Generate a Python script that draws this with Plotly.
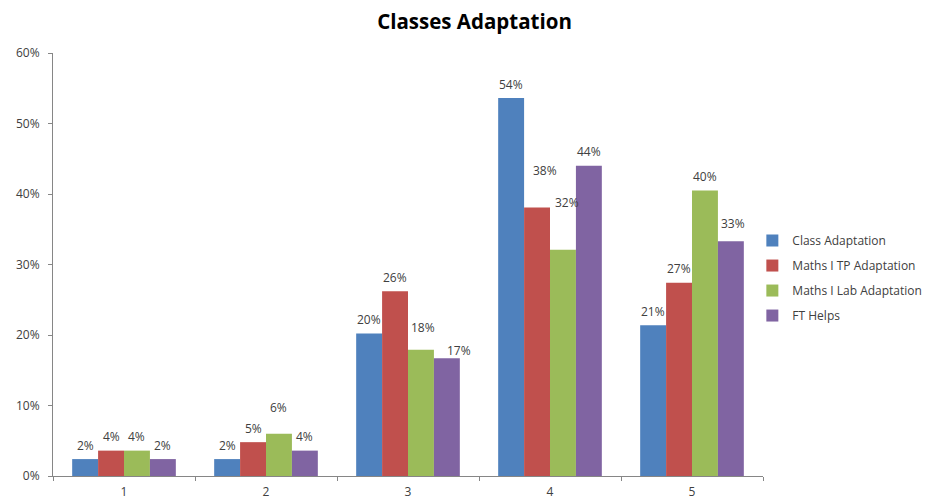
import plotly.graph_objects as go

categories = ["1", "2", "3", "4", "5"]
class_adaptation = [0.024, 0.024, 0.202, 0.536, 0.214]
maths_tp_adaptation = [0.036, 0.048, 0.262, 0.381, 0.274]
maths_lab_adaptation = [0.036, 0.060, 0.179, 0.321, 0.405]
ft_helps = [0.024, 0.036, 0.167, 0.440, 0.333]

series_names = ["Class Adaptation", "Maths I TP Adaptation", "Maths I Lab Adaptation", "FT Helps"]
series_values = [class_adaptation, maths_tp_adaptation, maths_lab_adaptation, ft_helps]
colors = ["#4F81BD", "#C0504D", "#9BBB59", "#8064A2"]

FONT = "Open Sans"
TEXT = "#404040"

# plot area geometry (px)
L, R, T, B = 53, 162, 53, 23
W, H = 925, 499
BARGAP = 0.27
plot_w = W - L - R
bar_w = plot_w / len(categories) * (1 - BARGAP) / len(series_names)

# label nudges (series index, category index) -> (dx, dy) in px
label_nudge = {
    (2, 1): (0, 12),
    (2, 2): (2, 8),
    (3, 2): (12, -6),
    (1, 3): (8, 23),
    (2, 3): (4, 33),
    (3, 4): (2, 4),
}

fig = go.Figure()
annotations = []
for si, (name, vals, col) in enumerate(zip(series_names, series_values, colors)):
    fig.add_trace(go.Bar(
        x=categories, y=vals, name=name, legendgroup=name,
        marker=dict(color=col, line=dict(width=0)),
    ))
    for ci, v in enumerate(vals):
        dx, dy = label_nudge.get((si, ci), (0, 0))
        annotations.append(dict(
            x=ci, y=v, xref="x", yref="y",
            text=f"{round(v * 100):.0f}%", showarrow=False,
            xshift=(si - 1.5) * bar_w + dx, yshift=14 + dy,
            yanchor="middle", xanchor="center",
            font=dict(family=FONT, size=12, color=TEXT),
        ))

fig.update_layout(
    width=W, height=H,
    margin=dict(l=L, r=R, t=T, b=B, autoexpand=False),
    paper_bgcolor="white", plot_bgcolor="white",
    barmode="group", bargap=BARGAP, bargroupgap=0,
    title=dict(text="<b>Classes Adaptation</b>", x=0.513, xanchor="center",
               y=1 - 22 / H, yanchor="middle",
               font=dict(family=FONT, size=20.5, color="#000000")),
    legend=dict(x=0.985, xanchor="left", y=0.468, yanchor="middle",
                font=dict(family=FONT, size=12, color=TEXT),
                itemwidth=30, tracegroupgap=6, bgcolor="rgba(0,0,0,0)"),
    annotations=annotations,
    showlegend=True,
)
fig.update_xaxes(
    type="category", range=[-0.5, len(categories) - 0.5],
    showline=True, linecolor="#868686", linewidth=1,
    ticks="outside", tickson="boundaries", ticklen=4, tickcolor="#868686",
    ticklabelstandoff=5,
    showgrid=False, tickfont=dict(family=FONT, size=12, color=TEXT),
)
fig.update_yaxes(
    range=[0, 0.6], dtick=0.1, tickformat=".0%",
    showline=True, linecolor="#868686", linewidth=1,
    ticks="outside", ticklen=4, tickcolor="#868686",
    ticklabelstandoff=6,
    showgrid=False, zeroline=False,
    tickfont=dict(family=FONT, size=12, color=TEXT),
)

fig.write_html("out.html")
